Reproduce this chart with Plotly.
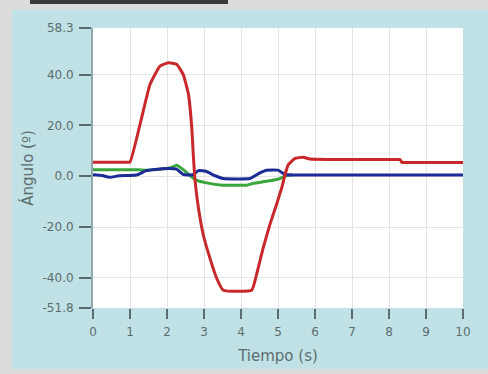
import plotly.graph_objects as go

# ---- data ----
t_red = [0, 0.9, 1.0, 1.27, 1.54, 1.81, 2.04, 2.26, 2.44, 2.58, 2.67, 2.71, 2.76, 2.85, 2.98,
         3.16, 3.34, 3.52, 4.29, 4.42, 4.6, 4.78, 4.96, 5.1, 5.19, 5.28, 5.46, 5.68,
         5.86, 8.2, 8.3, 8.35, 8.45, 10]
v_red = [5.5, 5.5, 5.6, 20.3, 36.1, 43.3, 44.6, 44.0, 40.0, 32.2, 19.0, 8.5, -2.0, -12.5, -23.0,
         -32.2, -40.0, -44.8, -44.8, -38.7, -28.2, -19.0, -11.1, -4.6, 0.7, 4.6, 7.0, 7.5,
         6.8, 6.6, 6.6, 5.4, 5.4, 5.4]

t_green = [0, 1.1, 1.44, 1.89, 2.1, 2.26, 2.44, 2.76, 3.07, 3.52, 4.15, 4.33, 4.69, 5.05, 5.23, 5.4]
v_green = [2.6, 2.6, 2.4, 3.0, 3.4, 4.3, 2.6, -1.3, -2.6, -3.5, -3.5, -2.8, -2.0, -0.9, 0.4, 0.5]

t_blue = [0, 0.25, 0.45, 0.7, 1.0, 1.2, 1.44, 1.89, 2.26, 2.44, 2.7, 2.85, 3.05, 3.3, 3.52,
          4.24, 4.51, 4.69, 5.0, 5.19, 5.4, 10]
v_blue = [0.6, 0.3, -0.4, 0.2, 0.3, 0.6, 2.2, 3.0, 2.8, 0.7, 0.6, 2.2, 2.0, 0.2, -0.9,
          -0.9, 1.3, 2.4, 2.4, 0.7, 0.5, 0.5]

y_ticks = [-51.8, -40.0, -20.0, 0.0, 20.0, 40.0, 58.3]
y_ticktext = [f"{v:.1f}" for v in y_ticks]
x_ticks = list(range(0, 11))

# ---- figure ----
fig = go.Figure()
fig.add_trace(go.Scatter(x=t_green, y=v_green, mode="lines",
                         line=dict(color="#3aa53a", width=3, shape="spline", smoothing=0.4),
                         showlegend=False))
fig.add_trace(go.Scatter(x=t_blue, y=v_blue, mode="lines",
                         line=dict(color="#1c2c96", width=3, shape="spline", smoothing=0.4),
                         showlegend=False))
fig.add_trace(go.Scatter(x=t_red, y=v_red, mode="lines",
                         line=dict(color="#c8282a", width=3, shape="spline", smoothing=0.4),
                         showlegend=False))

L, R, T, B = 93, 25, 28, 66
W, H = 488, 374
pw, ph = W - L - R, H - T - B


def px(x):
    return (x - L) / pw


def py(y):
    return (H - B - y) / ph


shapes = [
    # teal panel
    dict(type="rect", xref="paper", yref="paper", x0=px(12), x1=px(490), y0=py(369), y1=py(10),
         fillcolor="#c0e1e5", line=dict(width=0), layer="below"),
    # cut-off title bar
    dict(type="rect", xref="paper", yref="paper", x0=px(30), x1=px(228), y0=py(4), y1=py(-2),
         fillcolor="#3a3a3a", line=dict(width=0), layer="below"),
    # white plot area
    dict(type="rect", xref="paper", yref="paper", x0=0, x1=1, y0=0, y1=1,
         fillcolor="white", line=dict(width=0), layer="below"),
]

TXT = "#5c6d70"
fig.update_layout(
    width=W, height=H,
    margin=dict(l=L, r=R, t=T, b=B),
    paper_bgcolor="#dcdcdc",
    plot_bgcolor="rgba(0,0,0,0)",
    shapes=shapes,
    font=dict(family="DejaVu Sans, Verdana, sans-serif", size=12, color=TXT),
    xaxis=dict(range=[0, 10], tickvals=x_ticks, ticks="outside", ticklen=10, tickwidth=2,
               tickcolor="#5a6a6e", showgrid=True, gridcolor="#e4e4e4", gridwidth=1,
               zeroline=False, showline=False, ticklabelstandoff=3,
               title=dict(text="Tiempo (s)", font=dict(size=15, color=TXT), standoff=12)),
    yaxis=dict(range=[-51.8, 58.3], tickvals=y_ticks, ticktext=y_ticktext, ticks="outside",
               ticklen=12, tickwidth=2, tickcolor="#5a6a6e", showgrid=True, gridcolor="#e4e4e4",
               gridwidth=1, zeroline=False, showline=True, linecolor="#8fa9ad", linewidth=2,
               ticklabelstandoff=3,
               title=dict(text="Ángulo (º)", font=dict(size=15, color=TXT), standoff=5)),
)

fig.write_html("out.html",
               config={"displayModeBar": False, "staticPlot": True},
               post_script="document.body.style.margin='0';document.body.style.overflow='hidden';")
